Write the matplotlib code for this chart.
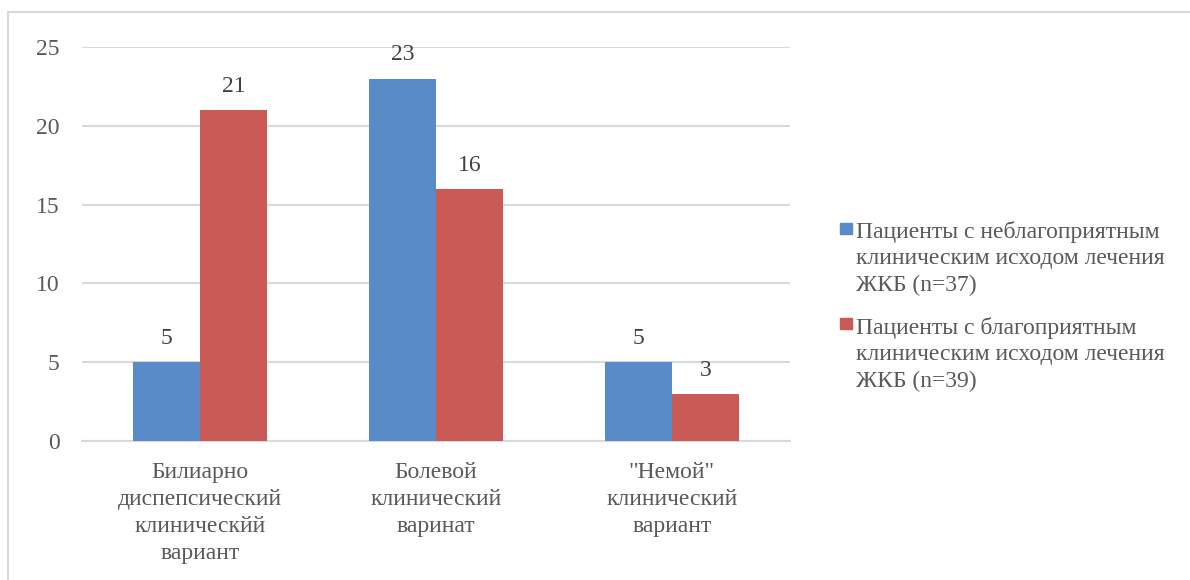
import matplotlib
matplotlib.use("Agg")
import matplotlib.pyplot as plt
import numpy as np
from matplotlib.patches import Rectangle
from matplotlib.lines import Line2D

categories = ["Билиарно\nдиспепсический\nклиническйй\nвариант",
              "Болевой\nклинический\nваринат",
              "\"Немой\"\nклинический\nвариант"]
unfavorable = [5, 23, 5]
favorable = [21, 16, 3]
series_labels = ["Пациенты с неблагоприятным\nклиническим исходом лечения\nЖКБ (n=37)",
                 "Пациенты с благоприятным\nклиническим исходом лечения\nЖКБ (n=39)"]
yticks = [0, 5, 10, 15, 20, 25]

BLUE = "#5A8BC9"
RED = "#C95A55"
TXT = "#595959"
GRID = "#D9D9D9"
FS = 17

plt.rcParams['font.family'] = ['Liberation Serif', 'DejaVu Serif']

fig = plt.figure(figsize=(11.9, 5.8), dpi=100)
W, H = 1190, 580
ax = fig.add_axes([82 / W, 1 - 441 / H, (790 - 82) / W, (441 - 47) / H])

x = np.arange(len(categories))
bw = 0.284
b1 = ax.bar(x - bw / 2, unfavorable, bw, color=BLUE, zorder=3)
b2 = ax.bar(x + bw / 2, favorable, bw, color=RED, zorder=3)

for bars, vals in ((b1, unfavorable), (b2, favorable)):
    for r, v in zip(bars, vals):
        ax.annotate(str(v), (r.get_x() + r.get_width() / 2, v), xytext=(0, 9.5),
                    textcoords="offset points", ha="center", va="bottom",
                    fontsize=FS, color="#404040")

ax.set_xlim(-0.5, len(categories) - 0.5)
ax.set_ylim(0, 25)
ax.set_yticks(yticks)
ax.set_yticklabels([str(t) for t in yticks])
ax.set_xticks(x)
ax.set_xticklabels(categories, linespacing=1.37)
ax.tick_params(axis='y', length=0, pad=16, labelsize=FS, labelcolor=TXT)
ax.tick_params(axis='x', length=0, pad=15, labelsize=FS, labelcolor=TXT)
ax.grid(axis='y', color=GRID, linewidth=1.5, zorder=0)
for s in ("top", "right", "left"):
    ax.spines[s].set_visible(False)
ax.spines["bottom"].set_color(GRID)
ax.spines["bottom"].set_linewidth(1.5)

# Legend (manual, handles aligned with first line)
handle_top = [223, 318]
text_top = [221, 317]
for col, lab, hy, ty in zip([BLUE, RED], series_labels, handle_top, text_top):
    fig.patches.append(Rectangle((840 / W, 1 - (hy + 11) / H), 12 / W, 11 / H,
                                 transform=fig.transFigure, color=col))
    fig.text(856 / W, 1 - ty / H, lab, ha="left", va="top",
             fontsize=FS, color=TXT, linespacing=1.34)

# Figure border (top and left visible)
fig.add_artist(Line2D([8 / W, 1.0], [1 - 12 / H, 1 - 12 / H], transform=fig.transFigure,
                      color="#D9D9D9", linewidth=1.5))
fig.add_artist(Line2D([8 / W, 8 / W], [0, 1 - 12 / H], transform=fig.transFigure,
                      color="#D9D9D9", linewidth=1.5))

fig.savefig("out.png", dpi=100)
